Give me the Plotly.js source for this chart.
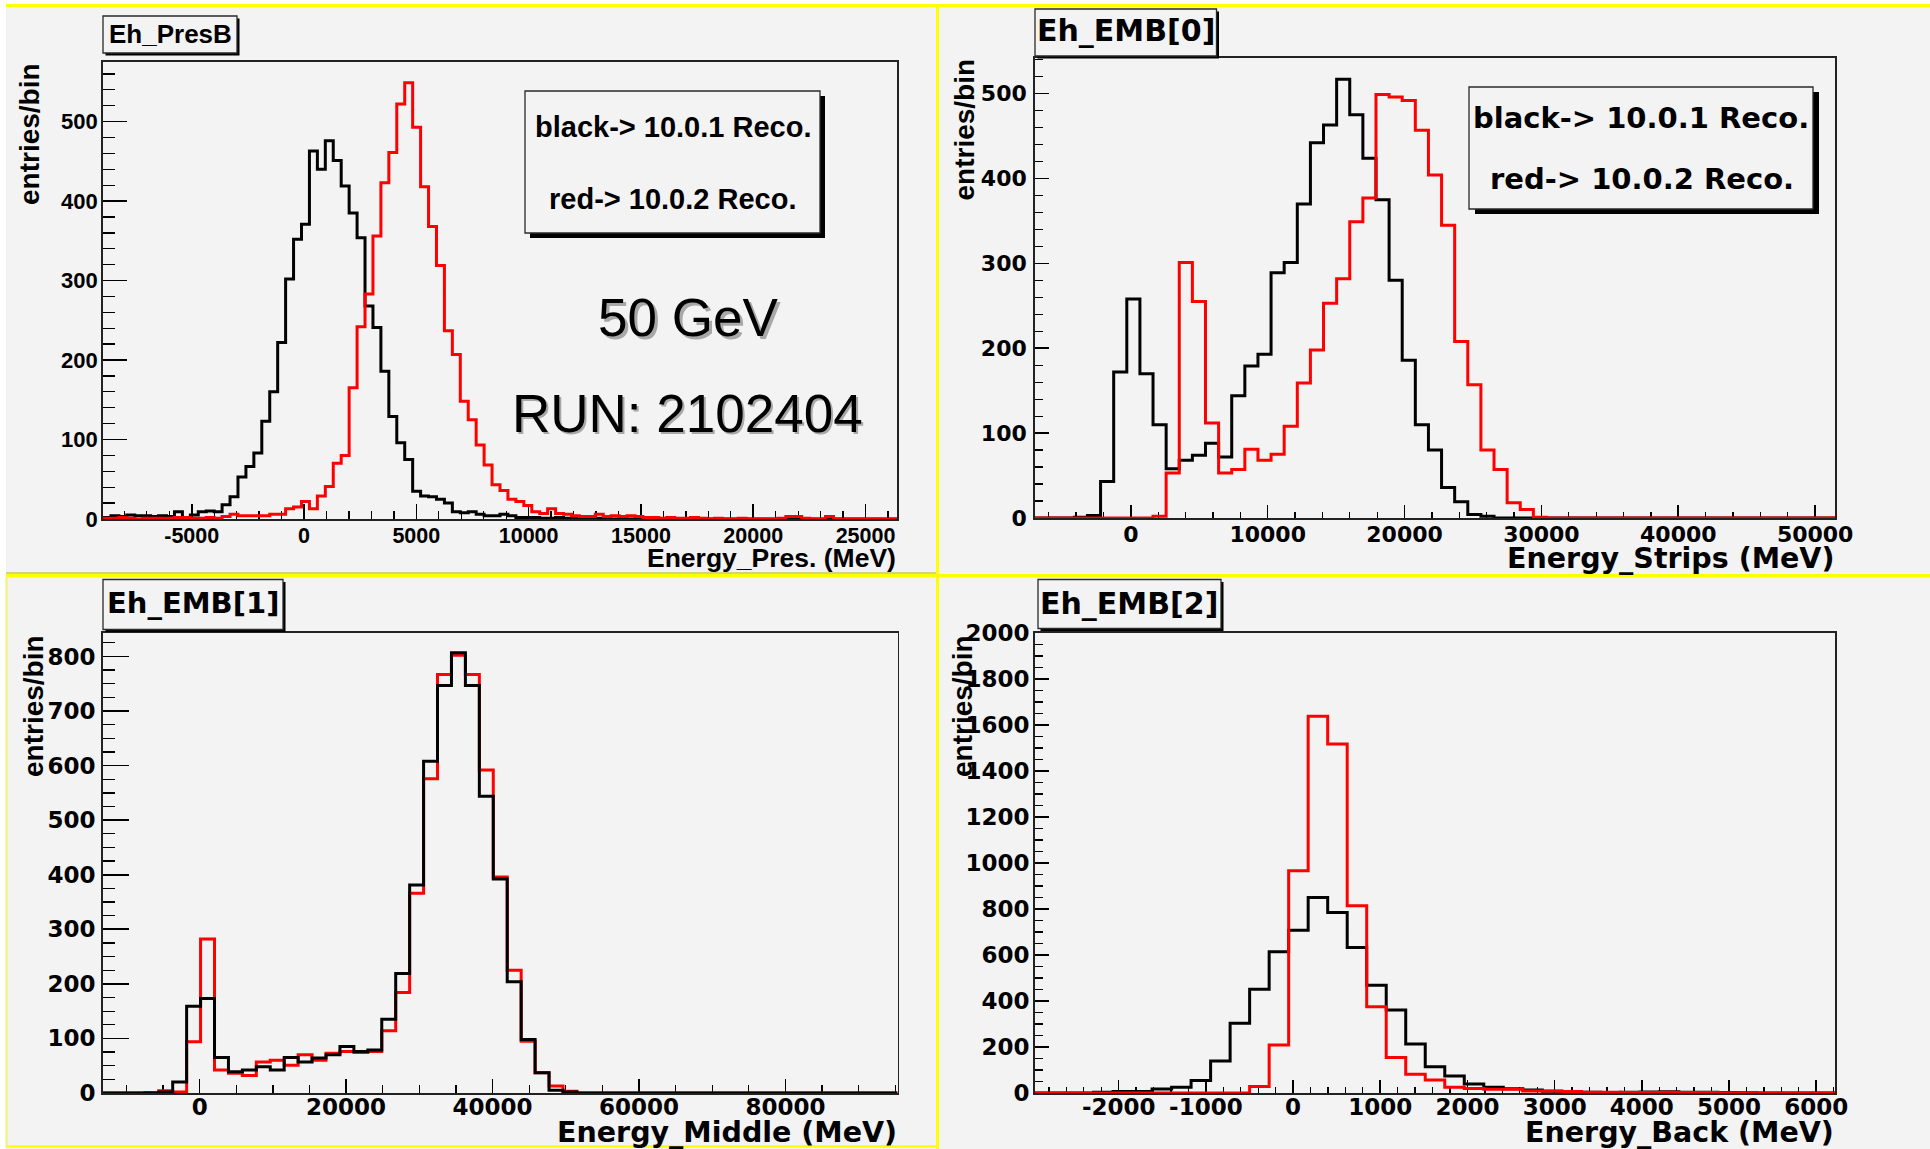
<!DOCTYPE html>
<html>
<head>
<meta charset="utf-8">
<script src="https://cdn.plot.ly/plotly-3.0.1.min.js"></script>
<style>
html,body{margin:0;padding:0;background:#ffffff;}
#chart{width:1930px;height:1149px;}
</style>
</head>
<body>
<div id="chart"></div>
<script>
// ---------------- DATA ----------------
// Panel 1: Eh_PresB  (100 bins)
const presBinStart = -8950;
const presBinWidth = 353.5;
const presBlack = [2,4,3,5,4,4, 3,4,3,9,2,5,9,10,9,18,28,53,66,83,
  123,160,222,302,352,371,463,440,476,451, 419,385,354,268,241,186,129,96,75,35,
  29,28,25,20,9,8,9,6,4,4, 6,4,2,2,2,1,1,2,1,1,
  1,0,1,0,0,1,0,0,0,0, 0,0,0,0,0,0,0,0,0,0,
  0,0,0,0,0,0,0,0,0,0, 0,0,0,0,0,0,0,0,0,0];
const presRed = [1,1,2,1,0,1, 1,1,1,2,2,1,1,2,1, 3,6,4,4,4,4,6,6,
  13,15,22,13,29,41,70, 80,165,242,283,356,423,461,522,549,493,
  418,368,319,237,207,148,125,93,68,43, 36,25,22,17,9,7,13,7,6,4,
  3,3,6,3,4,3,4,3,2,2, 1,2,1,1,2,1,0,1,0,0,
  1,0,0,0,0,1,3,3,1,0, 0,3,0,0,0,0,0,0,0,0];
const presYMax = 575;
const presXTicks = [-5000, 0, 5000, 10000, 15000, 20000, 25000];
const presYTicks = [0, 100, 200, 300, 400, 500];

// Panel 2: Eh_EMB[0] strips (61 bins)
const stripsBinStart = -7000;
const stripsBinWidth = 958.2;
const stripsBlack = [0,0,0,1,3,43,172,258,170,110,
  58,68,74,88,72,144,179,193,289,301,
  370,442,463,517,475,424,375,280,186,110,
  80,36,19,4,2,0,0,0,0,0, 0,0,0,0,0,0,0,0,0,0, 0,0,0,0,0,0,0,0,0,0, 0];
const stripsRed = [0,0,0,0,0,0,0,0,0,2,
  53,301,255,112,53,57,81,68,75,108,
  159,198,253,282,349,377,499,496,492,457,
  404,345,208,157,80,57,18,10,1,0, 0,0,0,0,0,0,0,0,0,0, 0,0,0,0,0,0,0,0,0,0, 0];
const stripsYMax = 542;
const stripsXTicks = [0, 10000, 20000, 30000, 40000, 50000];
const stripsYTicks = [0, 100, 200, 300, 400, 500];

// Panel 3: Eh_EMB[1] middle (57 bins)
const middleBinStart = -13200;
const middleBinWidth = 1903.5;
const middleBlack = [0,0,0,0,2,20,159,173,65,39,
  42,48,42,65,57,64,70,85,76,79,
  135,219,381,608,747,807,747,544,392,204,
  98,37,5,2,0,0,0,0,0,0, 0,0,0,0,0,0,0,0,0,0, 0,0,0,0,0,0,0];
const middleRed = [0,0,0,1,4,2,94,282,42,36,
  32,57,60,51,70,60,73,76,74,76,
  114,184,366,576,767,802,767,592,396,225,
  95,37,13,3,0,0,0,0,0,0, 0,0,0,0,0,0,0,0,0,0, 0,0,0,0,0,0,0];
const middleYMax = 843;
const middleXTicks = [0, 20000, 40000, 60000, 80000];
const middleYTicks = [0, 100, 200, 300, 400, 500, 600, 700, 800];

// Panel 4: Eh_EMB[2] back (41 bins)
const backBinStart = -2960;
const backBinWidth = 223.8;
const backBlack = [0,0,0,3,6,6,17,25,54,139,
  303,451,614,708,850,785,633,469,361,213,
  114,74,39,25,19,13,8,6,3,2,
  3,4,5,3,3,2,1,0,0,0, 0];
const backRed = [0,0,0,0,0,0,0,0,0,0,
  0,28,209,966,1638,1517,814,375,154,81,
  56,25,20,16,16,9,9,6,3,3,
  2,2,3,2,2,1,0,0,0,0, 0];
const backYMax = 2000;
const backXTicks = [-2000, -1000, 0, 1000, 2000, 3000, 4000, 5000, 6000];
const backYTicks = [0, 200, 400, 600, 800, 1000, 1200, 1400, 1600, 1800, 2000];

// ---------------- HELPERS ----------------
const W = 1930, H = 1149;
const fx = p => p / W;
const fy = p => 1 - p / H;
const LIB = 'Liberation Sans, Arial, sans-serif';
const DJV = 'DejaVu Sans, sans-serif';

function stepTrace(start, width, counts, color, xa, ya) {
  const x = [start], y = [0];
  for (let i = 0; i < counts.length; i++) { x.push(start + i * width); y.push(counts[i]); }
  x.push(start + counts.length * width); y.push(0);
  return {x, y, type: 'scatter', mode: 'lines', xaxis: xa, yaxis: ya,
    line: {color, width: 3, shape: 'hv'}, hoverinfo: 'skip', showlegend: false};
}

function axis(dom, anchor, range, vals, font, size, majLen, minDt, minLen, standoff) {
  return {
    domain: dom, anchor, range, autorange: false,
    tickmode: 'array', tickvals: vals, ticktext: vals.map(v => String(v)),
    ticks: 'inside', ticklen: majLen, tickwidth: 1.6, tickcolor: '#000',
    minor: {tickmode: 'linear', tick0: 0, dtick: minDt, ticks: 'inside', ticklen: minLen, tickwidth: 1.3, tickcolor: '#000', showgrid: false},
    showline: true, linecolor: '#222', linewidth: 1.8, mirror: true,
    showgrid: false, zeroline: false, layer: 'below traces',
    tickfont: {family: font, size, color: '#000', weight: 'bold'},
    ticklabelstandoff: standoff, fixedrange: true
  };
}

function edge(start, width, n) { return [start, start + n * width]; }

// ---------------- TRACES ----------------
const traces = [
  stepTrace(presBinStart, presBinWidth, presBlack, '#000000', 'x', 'y'),
  stepTrace(presBinStart, presBinWidth, presRed, '#ff0000', 'x', 'y'),
  stepTrace(stripsBinStart, stripsBinWidth, stripsBlack, '#000000', 'x2', 'y2'),
  stepTrace(stripsBinStart, stripsBinWidth, stripsRed, '#ff0000', 'x2', 'y2'),
  stepTrace(middleBinStart, middleBinWidth, middleRed, '#ff0000', 'x3', 'y3'),
  stepTrace(middleBinStart, middleBinWidth, middleBlack, '#000000', 'x3', 'y3'),
  stepTrace(backBinStart, backBinWidth, backBlack, '#000000', 'x4', 'y4'),
  stepTrace(backBinStart, backBinWidth, backRed, '#ff0000', 'x4', 'y4')
];

// ---------------- LAYOUT ----------------
const P1 = {x0: 103, x1: 897, y0: 62, y1: 519};
const P2 = {x0: 1035, x1: 1835, y0: 58, y1: 518};
const P3 = {x0: 103, x1: 897.5, y0: 633, y1: 1093};
const P4 = {x0: 1035, x1: 1835, y0: 633, y1: 1093};
const xd = P => [fx(P.x0), fx(P.x1)];
const yd = P => [fy(P.y1), fy(P.y0)];

const layout = {
  width: W, height: H, autosize: false,
  margin: {l: 0, r: 0, t: 0, b: 0, pad: 0},
  paper_bgcolor: '#ffffff', plot_bgcolor: '#f3f3f3',
  showlegend: false,
  xaxis: axis(xd(P1), 'y', edge(presBinStart, presBinWidth, presBlack.length), presXTicks, LIB, 21.5, 15, 1000, 8, -4),
  yaxis: axis(yd(P1), 'x', [0, presYMax], presYTicks, LIB, 22, 24, 20, 12, -1),
  xaxis2: axis(xd(P2), 'y2', edge(stripsBinStart, stripsBinWidth, stripsBlack.length), stripsXTicks, DJV, 22, 13, 2000, 6.5, -4),
  yaxis2: axis(yd(P2), 'x2', [0, stripsYMax], stripsYTicks, DJV, 22, 14, 20, 7.5, 2),
  xaxis3: axis(xd(P3), 'y3', edge(middleBinStart, middleBinWidth, middleBlack.length), middleXTicks, DJV, 23, 14, 5000, 8, -7),
  yaxis3: axis(yd(P3), 'x3', [0, middleYMax], middleYTicks, DJV, 23, 26, 25, 12, 1),
  xaxis4: axis(xd(P4), 'y4', edge(backBinStart, backBinWidth, backBlack.length), backXTicks, DJV, 23, 13, 200, 6.5, -7),
  yaxis4: axis(yd(P4), 'x4', [0, backYMax], backYTicks, DJV, 23, 14, 50, 7.5, -1),
  shapes: [], annotations: []
};

// background and yellow pad borders
function rect(x0, y0, x1, y1, fill, lineColor, lw, layer) {
  return {type: 'rect', xref: 'paper', yref: 'paper', x0: fx(x0), x1: fx(x1), y0: fy(y1), y1: fy(y0),
    fillcolor: fill, line: {color: lineColor || 'rgba(0,0,0,0)', width: lw || 0}, layer: layer || 'above'};
}
function line(x0, y0, x1, y1, color, w) {
  return {type: 'line', xref: 'paper', yref: 'paper', x0: fx(x0), x1: fx(x1), y0: fy(y0), y1: fy(y1),
    line: {color, width: w}, layer: 'above'};
}
layout.shapes.push(rect(6, 6, 1930, 1149, '#f3f3f3', null, 0, 'below'));
layout.shapes.push(line(6, 5.5, 1930, 5.5, '#ffff00', 3));
layout.shapes.push(line(6, 573, 937, 573, '#b4b400', 1.2));
layout.shapes.push(line(6, 575.8, 1930, 575.8, '#ffff00', 3.5));
layout.shapes.push(line(937.5, 4, 937.5, 1149, '#ffff00', 3));
layout.shapes.push(line(6, 1146.5, 937, 1146.5, '#ffff00', 2.5));
layout.shapes.push(line(6.5, 577, 6.5, 1147, '#f2f27a', 2));

// title boxes (with shadow)
function box(x0, y0, x1, y1, sdx, sdy) {
  layout.shapes.push(rect(x0 + sdx, y0 + sdy, x1 + sdx, y1 + sdy, '#000000', null, 0));
  layout.shapes.push(rect(x0, y0, x1, y1, '#f3f3f3', '#2a2a2a', 1.3));
}
box(103, 16, 237, 53, 2.5, 2.5);
box(1035, 9, 1216.5, 56, 2.5, 2.5);
box(103, 579.5, 283, 629.5, 2.5, 2.5);
box(1038, 579.5, 1221, 628.5, 2.5, 2.5);
// legend boxes
box(525, 91, 820, 233, 5, 5);
box(1469, 87, 1813, 209, 6, 5);

function text(t, x, y, family, size, opts) {
  const o = opts || {};
  layout.annotations.push({
    text: t, xref: 'paper', yref: 'paper', x: fx(x), y: fy(y), showarrow: false,
    xanchor: o.xanchor || 'center', yanchor: o.yanchor || 'middle',
    textangle: o.angle || 0, borderpad: 0,
    font: {family, size, color: o.color || '#000', weight: o.weight || 'bold'}
  });
}
// titles
text('Eh_PresB', 170, 34.5, LIB, 26);
text('Eh_EMB[0]', 1125.5, 30, DJV, 30);
text('Eh_EMB[1]', 193, 603, DJV, 29);
text('Eh_EMB[2]', 1129, 603, DJV, 30);
// legends
text('black-> 10.0.1 Reco.', 672.5, 127.5, LIB, 29);
text('red-> 10.0.2 Reco.', 672, 199, LIB, 29);
text('black-> 10.0.1 Reco.', 1641, 118, DJV, 29);
text('red-> 10.0.2 Reco.', 1641.5, 179, DJV, 29);
// run info with soft shadow
text('50 GeV', 690.5, 320, LIB, 53, {weight: 'normal', color: '#a8a8a8'});
text('50 GeV', 688, 317.5, LIB, 53, {weight: 'normal'});
text('RUN: 2102404', 689.5, 416, LIB, 53, {weight: 'normal', color: '#a8a8a8'});
text('RUN: 2102404', 687, 413.5, LIB, 53, {weight: 'normal'});
// axis titles
text('Energy_Pres. (MeV)', 897, 558, LIB, 26.5, {xanchor: 'right'});
text('Energy_Strips (MeV)', 1835, 558, DJV, 28.5, {xanchor: 'right'});
text('Energy_Middle (MeV)', 897.5, 1132, DJV, 28.5, {xanchor: 'right'});
text('Energy_Back (MeV)', 1835, 1132, DJV, 28.5, {xanchor: 'right'});
text('entries/bin', 30, 134, LIB, 28, {angle: -90});
text('entries/bin', 964.5, 130, LIB, 28, {angle: -90});
text('entries/bin', 33, 706, LIB, 28, {angle: -90});
text('entries/bin', 962, 706, LIB, 28, {angle: -90});

Plotly.newPlot('chart', traces, layout, {displayModeBar: false, staticPlot: true});
</script>
</body>
</html>
